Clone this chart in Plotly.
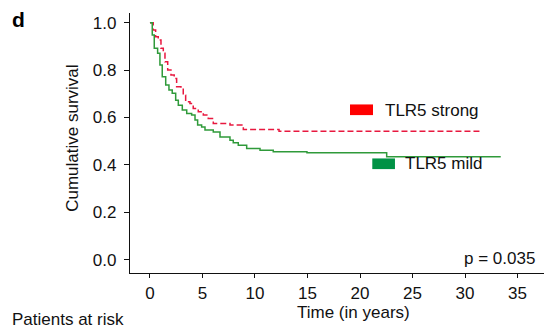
import plotly.graph_objects as go

# ---- data (Kaplan-Meier step points) ----
strong_t = [0, 0.31, 0.54, 0.79, 1.05, 1.27, 1.43, 1.69, 2.0, 2.31, 2.54, 2.95, 3.17, 3.4,
            3.81, 4.12, 4.6, 5.08, 5.55, 6.03, 7.62, 8.89, 12.29, 31.4]
strong_s = [1.0, 0.969, 0.941, 0.927, 0.892, 0.871, 0.835, 0.800, 0.779, 0.765, 0.730, 0.723,
            0.694, 0.666, 0.659, 0.638, 0.624, 0.610, 0.596, 0.575, 0.568, 0.549, 0.542, 0.542]

mild_t = [0, 0.22, 0.41, 0.73, 0.95, 1.17, 1.5, 1.81, 2.12, 2.45, 2.7, 3.08, 3.5, 3.97, 4.29,
          4.54, 4.92, 5.24, 6.03, 6.67, 7.62, 7.93, 8.41, 9.21, 10.48, 11.74, 14.95, 22.54, 33.4]
mild_s = [1.0, 0.948, 0.892, 0.871, 0.822, 0.772, 0.737, 0.716, 0.702, 0.673, 0.652, 0.631,
          0.617, 0.610, 0.589, 0.568, 0.560, 0.547, 0.539, 0.518, 0.504, 0.493, 0.483, 0.469,
          0.462, 0.455, 0.451, 0.434, 0.434]

x_ticks = [0, 5, 10, 15, 20, 25, 30, 35]
y_ticks = [0.0, 0.2, 0.4, 0.6, 0.8, 1.0]
y_ticklabels = ["0.0", "0.2", "0.4", "0.6", "0.8", "1.0"]
series_names = ["TLR5 strong", "TLR5 mild"]
p_text = "p = 0.035"

FONT = "Liberation Sans, Arial, Helvetica, sans-serif"
RED_LINE = "#e8183f"
GREEN_LINE = "#2f9a3a"
RED_KEY = "#ff0000"
GREEN_KEY = "#009245"

fig = go.Figure()
fig.add_trace(go.Scatter(x=strong_t, y=strong_s, mode="lines", line_shape="hv",
                         line=dict(color=RED_LINE, width=1.5, dash="6px,3px"),
                         name=series_names[0], hoverinfo="skip"))
fig.add_trace(go.Scatter(x=mild_t, y=mild_s, mode="lines", line_shape="hv",
                         line=dict(color=GREEN_LINE, width=1.5),
                         name=series_names[1], hoverinfo="skip"))

# legend keys (drawn boxes, as in the original)
fig.add_shape(type="rect", xref="x", yref="y", x0=19.05, x1=21.24, y0=0.61, y1=0.655,
              fillcolor=RED_KEY, line_width=0)
fig.add_shape(type="rect", xref="x", yref="y", x0=21.17, x1=23.33, y0=0.382, y1=0.427,
              fillcolor=GREEN_KEY, line_width=0)

ann_font = dict(family=FONT, size=17, color="#111111")
annotations = [
    dict(x=22.2, y=0.631, xref="x", yref="y", text=series_names[0], showarrow=False,
         xanchor="left", yanchor="middle", font=ann_font),
    dict(x=24.12, y=0.404, xref="x", yref="y", text=series_names[1], showarrow=False,
         xanchor="left", yanchor="middle", font=ann_font),
    dict(x=36.9, y=0.005, xref="x", yref="y", text=p_text, showarrow=False,
         xanchor="right", yanchor="middle", font=ann_font),
    dict(x=-0.29, y=0.975, xref="paper", yref="paper", text="<b>d</b>", showarrow=False,
         xanchor="left", yanchor="middle", font=dict(family=FONT, size=21, color="#000000")),
    dict(x=-0.1377, y=0.52, xref="paper", yref="paper", text="Cumulative survival",
         showarrow=False, textangle=-90, xanchor="center", yanchor="middle", font=ann_font),
    dict(x=0.539, y=-0.151, xref="paper", yref="paper", text="Time (in years)",
         showarrow=False, xanchor="center", yanchor="middle", font=ann_font),
    dict(x=-0.289, y=-0.2245, xref="paper", yref="paper", text="Patients at risk",
         showarrow=False, xanchor="left", yanchor="bottom", font=ann_font),
]

fig.update_layout(
    width=544, height=331,
    margin=dict(l=130, r=0, t=13, b=58),
    paper_bgcolor="white", plot_bgcolor="white",
    showlegend=False,
    annotations=annotations,
    xaxis=dict(range=[-1.9, 37.52], tickvals=x_ticks, ticktext=[str(v) for v in x_ticks],
               showline=True, linecolor="#111111", linewidth=1.2,
               ticks="outside", ticklen=4, tickwidth=1, tickcolor="#111111",
               showgrid=False, zeroline=False,
               tickfont=dict(family=FONT, size=17, color="#111111")),
    yaxis=dict(range=[-0.0566, 1.041], tickvals=y_ticks, ticktext=y_ticklabels,
               showline=True, linecolor="#111111", linewidth=1.2,
               ticks="outside", ticklen=5, tickwidth=1, tickcolor="#111111",
               showgrid=False, zeroline=False, ticklabelstandoff=4,
               tickfont=dict(family=FONT, size=17, color="#111111")),
)

fig.write_html("out.html")
